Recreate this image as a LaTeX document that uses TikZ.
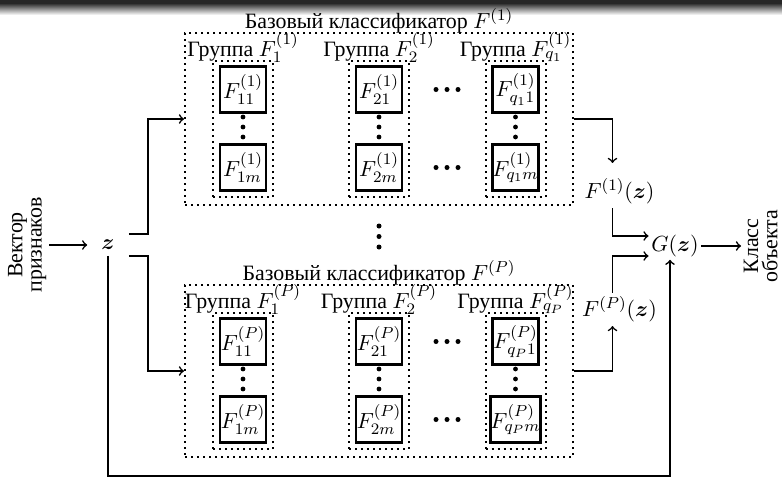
\documentclass[11pt,tikz,border=0pt]{standalone}
\usepackage{amsmath}
\usepackage{fontspec}
\newfontfamily\rufont{Liberation Serif}

\tikzset{
  clsbox/.style={draw, line width=1pt, dotted, minimum width=194pt, minimum height=86pt},
  grpbox/.style={draw, line width=1pt, dotted, minimum width=30pt, minimum height=68pt},
  unitbox/.style={draw, line width=1.2pt, minimum size=23pt, inner sep=0pt},
  sidelabel/.style={rotate=90, align=center, inner sep=1pt},
}

\begin{document}
\begin{tikzpicture}[x=0.5pt, y=-0.5pt, >=to, thick, every node/.style={font=\rufont}]
	% 1. 顶部阴影条
	\fill[black!85] (0,0) rectangle (782,3);
	\shade[top color=black!85, bottom color=white] (0,3) rectangle (782,15);
	\useasboundingbox (0,0) rectangle (782,477);
	
	% 2. 两个基分类器 (上: (1), 下: (P))
	\foreach \k/\dy/\s/\q in {1/0/1/q_1, 2/252/P/q_P} {
		\node[clsbox] (cls\k) at (379,119+\dy) {};
		\node[anchor=base] (title\k) at (379,28+\dy) {Базовый классификатор $F^{(\s)}$};
		\foreach \g/\gx/\n in {1/243/1, 2/379/2, 3/515.5/\q} {
			\node[grpbox] (grp\k\g) at (\gx,129+\dy) {};
			\node[anchor=base] (glab\k\g) at (\gx,56+\dy) {Группа $F_{\n}^{(\s)}$};
			\node[unitbox] (u\k\g-1) at (\gx,89.5+\dy) {$F_{\n 1}^{(\s)}$};
			\node[unitbox] (u\k\g-m) at (\gx,167.5+\dy) {$F_{\n m}^{(\s)}$};
			\foreach \t in {117,127,137} \fill (\gx,\t+\dy) circle (1.2pt);
		}
		\foreach \t in {436,447,458} {
			\fill (\t,89.5+\dy) circle (1.25pt);
			\fill (\t,167.5+\dy) circle (1.25pt);
		}
	}
	\foreach \t in {226,236.5,247} \fill (379,\t) circle (1.25pt);
	
	% 3. 输入, 输出与中间结果
	\node[sidelabel, anchor=south] (vin) at (49,245) {Вектор\\[-4pt]признаков};
	\node[minimum width=20pt, minimum height=10pt, inner sep=0pt] (z) at (108,245) {$\boldsymbol{z}$};
	\node[inner sep=1.5pt] (F1) at (619.5,191.5) {$F^{(1)}(\boldsymbol{z})$};
	\node[inner sep=1.5pt] (FP) at (619.5,309.5) {$F^{(P)}(\boldsymbol{z})$};
	\node[inner sep=1pt] (G) at (675,246) {$G(\boldsymbol{z})$};
	\node[sidelabel, anchor=north] (vout) at (741,246) {Класс\\[-4pt]объекта};
	
	% 4. 连线
	\draw[->] (vin.south) -- (z.west);
	\draw[->] (z.north east) -- ++(19,0) |- (cls1.west);
	\draw[->] (z.south east) -- ++(19,0) |- (cls2.west);
	\draw[->] (z.south) -- ++(0,220) -| ([xshift=-2.5pt]G.south);
	\draw[->] (cls1.east) -| ([xshift=-3.5pt,yshift=6pt]F1.north);
	\draw[->] (cls2.east) -| ([xshift=-3.5pt]FP.south);
	\draw[->] ([xshift=-3.5pt]F1.south) |- ([yshift=5pt]G.west);
	\draw[->] ([xshift=-3.5pt]FP.north) |- ([yshift=-5pt]G.west);
	\draw[->] (G.east) -- (vout.north);
\end{tikzpicture}
\end{document}
